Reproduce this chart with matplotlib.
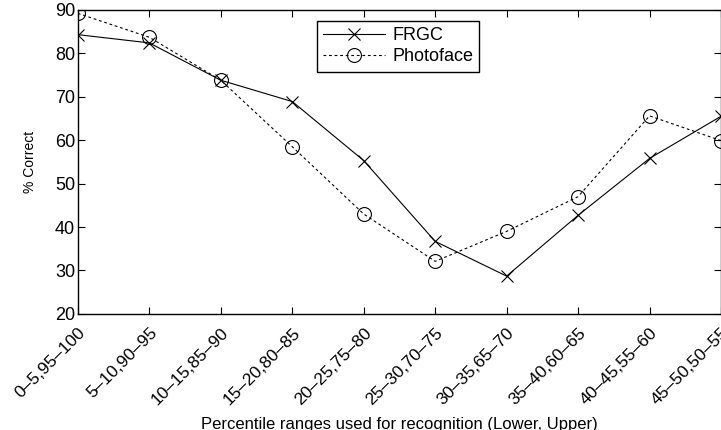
import matplotlib
matplotlib.use("Agg")
import matplotlib.pyplot as plt
import numpy as np

plt.rcParams['font.family'] = ['Liberation Sans', 'DejaVu Sans']

# === Data ===
range_labels = ["0\u20135,95\u2013100", "5\u201310,90\u201395", "10\u201315,85\u201390",
                "15\u201320,80\u201385", "20\u201325,75\u201380", "25\u201330,70\u201375",
                "30\u201335,65\u201370", "35\u201340,60\u201365", "40\u201345,55\u201360",
                "45\u201350,50\u201355"]
frgc = [84.3, 82.4, 73.8, 68.9, 55.3, 36.7, 28.7, 42.7, 55.8, 65.5]
photoface = [89.2, 83.7, 73.8, 58.5, 43.0, 32.1, 39.0, 47.0, 65.6, 59.9]

x = np.arange(len(range_labels))

fig = plt.figure(figsize=(7.21, 4.30), dpi=100)
ax = fig.add_axes([0.108, 0.270, 0.892, 0.707])

ax.plot(x, frgc, color='black', linewidth=0.8, marker='x', markersize=8,
        markeredgewidth=0.8, label='FRGC')
ax.plot(x, photoface, color='black', linewidth=0.8, linestyle=(0, (2.5, 2.5)),
        marker='o', markersize=10, markerfacecolor='none', markeredgewidth=0.8,
        label='Photoface')

ax.set_xlim(0, 9)
ax.set_ylim(20, 90)
ax.set_yticks(np.arange(20, 91, 10))
ax.set_xticks(x)
ax.set_xticklabels(range_labels, rotation=45, ha='right', va='top',
                   rotation_mode='anchor', fontsize=12.5)
ax.tick_params(axis='y', labelsize=13, pad=2)
ax.tick_params(axis='x', pad=8)
ax.tick_params(direction='in', top=True, right=True, length=5, width=0.8)
for s in ax.spines.values():
    s.set_linewidth(1.0)

ax.set_ylabel("% Correct", fontsize=10, labelpad=13)
ax.set_xlabel("Percentile ranges used for recognition (Lower, Upper)", fontsize=12,
              labelpad=7)

leg = ax.legend(loc='upper left', bbox_to_anchor=(0.372, 0.965), fontsize=13,
                frameon=True, fancybox=False, edgecolor='black', framealpha=1,
                handlelength=3.4, borderpad=0.35, labelspacing=0.25,
                handletextpad=0.4, borderaxespad=0)
leg.get_frame().set_linewidth(1.0)

fig.savefig("out.png", dpi=100)
